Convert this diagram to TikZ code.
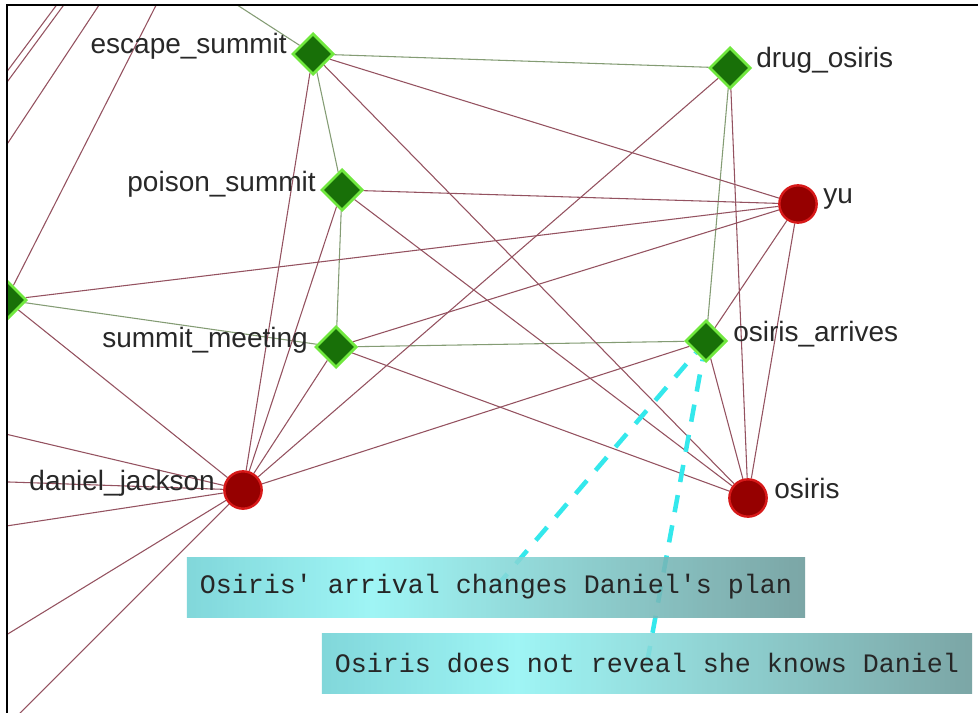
\documentclass[tikz,border=0pt]{standalone}
\usepackage{fontspec}
\setmainfont{Liberation Sans}
\setmonofont{Liberation Mono}
\usetikzlibrary{shapes.geometric}
\pgfdeclarelayer{bg}
\pgfsetlayers{bg,main}

\definecolor{edgered}{RGB}{148,82,96}
\definecolor{edgegreen}{RGB}{132,156,116}
\definecolor{evfill}{RGB}{24,112,8}
\definecolor{evline}{RGB}{112,232,62}
\definecolor{chfill}{RGB}{150,0,0}
\definecolor{chline}{RGB}{215,25,25}
\definecolor{dashcyan}{RGB}{52,232,236}
\definecolor{annA}{RGB}{112,210,214}
\definecolor{annB}{RGB}{146,244,244}
\definecolor{annC}{RGB}{106,154,154}
\definecolor{labeltext}{RGB}{40,40,40}

\pgfdeclarehorizontalshading{annotshade}{100bp}{color(0bp)=(annA); color(25bp)=(annA); color(40bp)=(annB); color(75bp)=(annC); color(100bp)=(annC)}

\tikzset{
  event/.style={diamond, aspect=1, minimum size=31pt, inner sep=0pt, fill=evfill, draw=evline, line width=2pt},
  actor/.style={circle, minimum size=28pt, inner sep=0pt, fill=chfill, draw=chline, line width=1.8pt},
  lbl/.style={font=\fontsize{21}{24}\selectfont, text=labeltext, inner sep=0pt},
  eR/.style={draw=edgered, line width=0.8pt},
  eG/.style={draw=edgegreen, line width=0.8pt},
  annot/.style={shade, shading=annotshade, fill opacity=0.88, text opacity=1,
    font=\ttfamily\fontsize{20}{24}\selectfont, text=black!85,
    minimum height=45pt, inner xsep=9.75pt, inner ysep=0pt},
  callout/.style={draw=dashcyan, line width=3.4pt, dash pattern=on 13pt off 10pt}
}

\begin{document}
\begin{tikzpicture}[x=0.75pt, y=-0.75pt]
\useasboundingbox (0,0) rectangle (978,713);

% far ends of edges leaving the view
\coordinate (topES) at (183,-30);
\coordinate (topL) at (174,-30);
\coordinate (DJa) at (-20,428);
\coordinate (DJb) at (-20,481);
\coordinate (DJc) at (-20,530);
\coordinate (DJd) at (-20,651);
\coordinate (DJe) at (-20,753);
\coordinate (ta1) at (70,-13);
\coordinate (ta2) at (-12,97);
\coordinate (tb1) at (77,-13);
\coordinate (tb2) at (-12,108);
\coordinate (tc1) at (111,-13);
\coordinate (tc2) at (-12,173);

\begin{scope}
\clip (7,5) rectangle (978,713);
\node[event] (ES) at (313,54) {};
\node[event] (DO) at (730,68) {};
\node[event] (PS) at (342,190) {};
\node[actor] (YU) at (798,204) {};
\node[event] (L) at (6,300) {};
\node[event] (SM) at (336,347) {};
\node[event] (OA) at (706,341) {};
\node[actor] (DJ) at (243,490) {};
\node[actor] (OS) at (748,498) {};
\end{scope}

% labels
\node[lbl, anchor=base east] (ESl) at (287,54) {escape\_summit};
\node[lbl, anchor=base east] (PSl) at (316,191) {poison\_summit};
\node[lbl, anchor=base east] (SMl) at (308,347) {summit\_meeting};
\node[lbl, anchor=base east] (DJl) at (215,490) {daniel\_jackson};
\node[lbl, anchor=base west] (DOl) at (756,68) {drug\_osiris};
\node[lbl, anchor=base west] (YUl) at (823,204) {yu};
\node[lbl, anchor=base west] (OAl) at (733,341) {osiris\_arrives};
\node[lbl, anchor=base west] (OSl) at (774,498) {osiris};

% annotations
\node[annot, minimum width=463.5pt] (A1) at (496,587) {Osiris\textquotesingle{} arrival changes Daniel\textquotesingle{}s plan};
\node[annot, minimum width=487.5pt] (A2) at (647,663) {Osiris does not reveal she knows Daniel};

\begin{pgfonlayer}{bg}
\fill[white] (0,0) rectangle (978,713);
\begin{scope}
\clip (7,5) rectangle (978,713);
% event-event links
\draw[eG] (ES) -- (DO);
\draw[eG] (ES) -- (PS);
\draw[eG] (PS) -- (SM);
\draw[eG] (SM) -- (OA);
\draw[eG] (DO) -- (OA);
\draw[eG] (L) -- (SM);
\draw[eG] (topES) -- (ES);
% character links
\draw[eR] (ES) -- (YU);
\draw[eR] (ES) -- (OS);
\draw[eR] (ES) -- (DJ);
\draw[eR] (PS) -- (YU);
\draw[eR] (PS) -- (OS);
\draw[eR] (PS) -- (DJ);
\draw[eR] (SM) -- (YU);
\draw[eR] (SM) -- (OS);
\draw[eR] (SM) -- (DJ);
\draw[eR] (DO) -- (DJ);
\draw[eR] (DO) -- (OS);
\draw[eR] (OA) -- (DJ);
\draw[eR] (OA) -- (YU);
\draw[eR] (OA) -- (OS);
\draw[eR] (YU) -- (OS);
\draw[eR] (L) -- (YU);
\draw[eR] (L) -- (DJ);
\draw[eR] (L) -- (topL);
\draw[eR] (DJ) -- (DJa);
\draw[eR] (DJ) -- (DJb);
\draw[eR] (DJ) -- (DJc);
\draw[eR] (DJ) -- (DJd);
\draw[eR] (DJ) -- (DJe);
\draw[eR] (ta1) -- (ta2);
\draw[eR] (tb1) -- (tb2);
\draw[eR] (tc1) -- (tc2);
% callouts
\draw[callout] (A1.center) -- (OA);
\draw[callout] (A2.center) -- (OA);
\end{scope}
\end{pgfonlayer}

% frame
\draw[black, line width=1.5pt] (7,713) -- (7,5) -- (978,5);
\end{tikzpicture}
\end{document}
